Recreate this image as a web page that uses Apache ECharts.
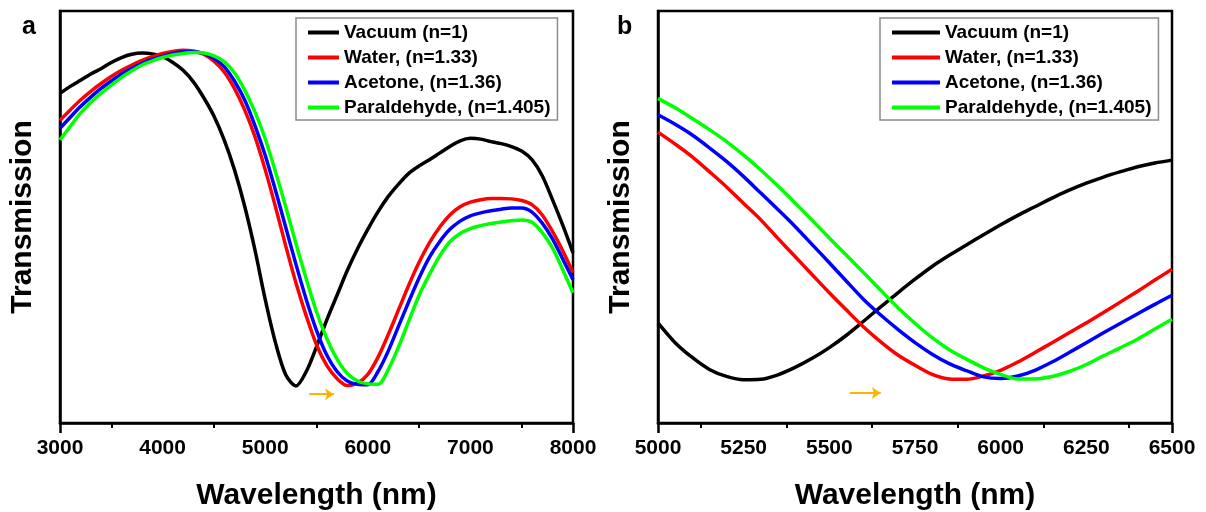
<!DOCTYPE html>
<html>
<head>
<meta charset="utf-8">
<script src="https://cdn.jsdelivr.net/npm/echarts@6/dist/echarts.min.js"></script>
<style>
  html, body { margin: 0; padding: 0; background: #fff; }
  #chart { width: 1206px; height: 512px; }
</style>
</head>
<body>
<div id="chart"></div>
<script>
// series names
const names = ['Vacuum (n=1)', 'Water, (n=1.33)', 'Acetone, (n=1.36)', 'Paraldehyde, (n=1.405)']
const colors = ['#000000', '#ff0000', '#0000ff', '#00ff00']

// panel a: wavelength 3000..8000 nm every 100 nm, relative transmission
const wlA = [3000,3100,3200,3300,3400,3500,3600,3700,3800,3900,4000,4100,4200,4300,4400,4500,4600,4700,4800,4900,5000,5100,5200,5300,5400,5500,5600,5700,5800,5900,6000,6100,6200,6300,6400,6500,6600,6700,6800,6900,7000,7100,7200,7300,7400,7500,7600,7700,7800,7900,8000]
const vacuumA = [0.80,0.817,0.832,0.847,0.86,0.875,0.887,0.895,0.898,0.896,0.889,0.875,0.856,0.828,0.79,0.745,0.687,0.615,0.526,0.42,0.30,0.195,0.117,0.09,0.125,0.185,0.25,0.31,0.37,0.423,0.47,0.513,0.55,0.58,0.606,0.624,0.639,0.655,0.671,0.685,0.691,0.689,0.683,0.678,0.671,0.66,0.639,0.60,0.542,0.48,0.413]
const waterA = [0.735,0.76,0.784,0.805,0.824,0.841,0.856,0.869,0.88,0.889,0.897,0.902,0.905,0.903,0.895,0.878,0.852,0.812,0.76,0.695,0.615,0.525,0.43,0.34,0.26,0.19,0.14,0.108,0.091,0.097,0.118,0.16,0.215,0.275,0.335,0.39,0.437,0.475,0.505,0.525,0.536,0.542,0.545,0.545,0.544,0.54,0.53,0.505,0.465,0.418,0.365]
const acetoneA = [0.715,0.742,0.768,0.791,0.812,0.83,0.847,0.861,0.873,0.883,0.89,0.897,0.901,0.901,0.897,0.885,0.865,0.83,0.784,0.722,0.65,0.565,0.475,0.385,0.30,0.225,0.165,0.125,0.102,0.094,0.093,0.125,0.175,0.235,0.295,0.352,0.402,0.44,0.47,0.49,0.503,0.51,0.515,0.519,0.522,0.522,0.512,0.485,0.447,0.398,0.348]
const paraldehydeA = [0.687,0.72,0.752,0.778,0.80,0.82,0.839,0.855,0.869,0.879,0.887,0.893,0.897,0.899,0.898,0.891,0.877,0.85,0.808,0.755,0.69,0.61,0.525,0.435,0.35,0.27,0.205,0.155,0.12,0.102,0.095,0.094,0.13,0.185,0.248,0.31,0.36,0.405,0.44,0.46,0.472,0.479,0.484,0.488,0.491,0.493,0.487,0.462,0.425,0.372,0.316]

// panel b: zoom on the dip, 5000..6500 nm every 50 nm
const wlB = [5000,5050,5100,5150,5200,5250,5300,5350,5400,5450,5500,5550,5600,5650,5700,5750,5800,5850,5900,5950,6000,6050,6100,6150,6200,6250,6300,6350,6400,6450,6500]
const vacuumB = [0.243,0.195,0.159,0.13,0.113,0.105,0.106,0.117,0.135,0.157,0.183,0.213,0.247,0.282,0.316,0.349,0.38,0.407,0.432,0.457,0.481,0.504,0.525,0.546,0.565,0.582,0.597,0.61,0.622,0.631,0.638]
const waterB = [0.706,0.677,0.646,0.61,0.573,0.533,0.493,0.448,0.404,0.36,0.316,0.274,0.233,0.197,0.165,0.14,0.118,0.107,0.106,0.114,0.128,0.148,0.171,0.195,0.219,0.243,0.268,0.294,0.32,0.347,0.373]
const acetoneB = [0.748,0.725,0.699,0.668,0.635,0.598,0.558,0.518,0.477,0.433,0.389,0.344,0.30,0.262,0.227,0.195,0.167,0.144,0.127,0.112,0.108,0.114,0.128,0.148,0.171,0.195,0.219,0.242,0.265,0.288,0.31]
const paraldehydeB = [0.788,0.765,0.739,0.712,0.683,0.65,0.614,0.575,0.534,0.492,0.449,0.407,0.365,0.322,0.28,0.242,0.207,0.178,0.155,0.134,0.118,0.107,0.107,0.113,0.125,0.142,0.163,0.183,0.204,0.228,0.252]

// axis ranges / ticks [min, max, interval]
const xRangeA = [3000, 8000, 1000]
const xRangeB = [5000, 6500, 250]

// little orange arrows (data coords)
const arrowA = [[5430, 0.07], [5670, 0.07]]
const arrowB = [[5560, 0.073], [5650, 0.073]]

const font = 'Liberation Sans, Arial, sans-serif'
const black = '#000'

function xAxisOf(idx, range) {
  return {
    gridIndex: idx, type: 'value', min: range[0], max: range[1], interval: range[2],
    name: 'Wavelength (nm)', nameLocation: 'middle', nameGap: 58,
    nameTextStyle: { fontFamily: font, fontSize: 30, fontWeight: 'bold', color: black },
    axisLine: { lineStyle: { color: black, width: 2.5 } },
    axisTick: { show: true, customValues: [range[0], range[1]], length: 10, lineStyle: { color: black, width: 2.5 } },
    minorTick: { show: true, splitNumber: 2, length: 5, lineStyle: { color: black, width: 2 } },
    axisLabel: { margin: 15, fontFamily: font, fontSize: 21, fontWeight: 'bold', color: black,
      formatter: v => String(v) },
    splitLine: { show: false }
  }
}

function yAxisOf(idx) {
  return {
    gridIndex: idx, type: 'value', min: 0, max: 1,
    name: 'Transmission', nameLocation: 'middle', nameGap: 22,
    nameTextStyle: { fontFamily: font, fontSize: 30, fontWeight: 'bold', color: black },
    axisLine: { show: true, lineStyle: { color: black, width: 2.5 } },
    axisTick: { show: false }, axisLabel: { show: false }, splitLine: { show: false }
  }
}

function legendOf(left, itemWidth) {
  return {
    data: names, orient: 'vertical', left: left, top: 18,
    itemWidth: itemWidth, itemHeight: 4, itemGap: 6, icon: 'rect',
    padding: [5, 7, 3, 12],
    borderColor: '#8c8c8c', borderWidth: 1.5, backgroundColor: '#fff',
    textStyle: { fontFamily: font, fontSize: 19, fontWeight: 'bold', color: black },
    selectedMode: false
  }
}

function arrowMark(pts) {
  return {
    silent: true, symbol: ['none', 'arrow'], symbolSize: 9,
    label: { show: false },
    lineStyle: { color: '#ffb300', width: 2, type: 'solid' },
    data: [[{ coord: pts[0] }, { coord: pts[1] }]]
  }
}

const pair = (xs, ys) => xs.map((x, i) => [x, ys[i]])
const dataA = [vacuumA, waterA, acetoneA, paraldehydeA].map(v => pair(wlA, v))
const dataB = [vacuumB, waterB, acetoneB, paraldehydeB].map(v => pair(wlB, v))

const series = []
;[dataA, dataB].forEach((panel, p) => {
  panel.forEach((d, i) => {
    series.push({
      name: names[i], type: 'line', xAxisIndex: p, yAxisIndex: p, data: d,
      smooth: 0.3, showSymbol: false, lineStyle: { color: colors[i], width: 3.5 },
      itemStyle: { color: colors[i] },
      markLine: i === 0 ? arrowMark(p === 0 ? arrowA : arrowB) : undefined
    })
  })
})

const chart = echarts.init(document.getElementById('chart'), null, { renderer: 'canvas' })
chart.setOption({
  animation: false,
  backgroundColor: '#fff',
  title: [
    { text: 'a', left: 17, top: 10, textStyle: { fontFamily: font, fontSize: 25, fontWeight: 'bold', color: black } },
    { text: 'b', left: 612, top: 10, textStyle: { fontFamily: font, fontSize: 25, fontWeight: 'bold', color: black } }
  ],
  legend: [legendOf(296, 31), legendOf(880, 48)],
  grid: [
    { left: 60, right: 633, top: 11, bottom: 89, show: true, borderColor: black, borderWidth: 2.5, outerBoundsMode: 'none' },
    { left: 658, right: 34, top: 11, bottom: 89, show: true, borderColor: black, borderWidth: 2.5, outerBoundsMode: 'none' }
  ],
  xAxis: [xAxisOf(0, xRangeA), xAxisOf(1, xRangeB)],
  yAxis: [yAxisOf(0), yAxisOf(1)],
  series: series
})
</script>
</body>
</html>
